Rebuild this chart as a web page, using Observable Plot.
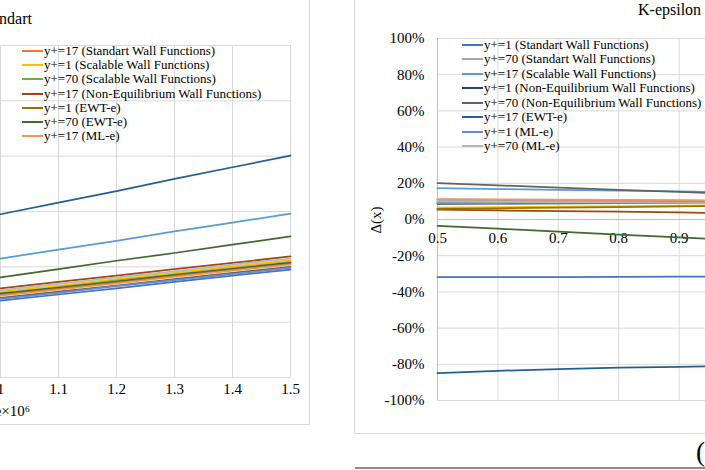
<!DOCTYPE html>
<html><head><meta charset="utf-8">
<script src="https://cdn.jsdelivr.net/npm/d3@7"></script>
<script src="https://cdn.jsdelivr.net/npm/@observablehq/plot@0.6"></script>
<style>
html,body{margin:0;padding:0;background:#fff;}
#root{position:relative;width:705px;height:470px;overflow:hidden;background:#fff;font-family:"Liberation Serif","Times New Roman",serif;color:#000;}
#root svg, #root svg text{font-family:"Liberation Serif","Times New Roman",serif !important;}
.abs{position:absolute;}
.leg{position:absolute;font-size:13px;line-height:14px;white-space:nowrap;color:#000;}
.sw{display:inline-block;width:21px;height:0;border-top:2px solid;vertical-align:middle;margin-right:1px;position:relative;top:-1px;}
.ln{position:absolute;background:#d9d9d9;}
</style></head><body><div id="root"></div>
<script>
// ---- data ----
const seriesNames = [
  "y+=1 (Standart Wall Functions)", "y+=17 (Standart Wall Functions)", "y+=70 (Standart Wall Functions)",
  "y+=1 (Scalable Wall Functions)", "y+=17 (Scalable Wall Functions)", "y+=70 (Scalable Wall Functions)",
  "y+=1 (Non-Equilibrium Wall Functions)", "y+=17 (Non-Equilibrium Wall Functions)", "y+=70 (Non-Equilibrium Wall Functions)",
  "y+=1 (EWT-e)", "y+=17 (EWT-e)", "y+=70 (EWT-e)",
  "y+=1 (ML-e)", "y+=17 (ML-e)", "y+=70 (ML-e)"
];
const seriesColors = [
  "#4472C4", "#ED7D31", "#A5A5A5", "#FFC000", "#5B9BD5", "#70AD47",
  "#264478", "#9E480E", "#636363", "#997300", "#255E91", "#43682B",
  "#698ED0", "#F1975A", "#B7B7B7"
];
// left chart (Re x 10^6 from 1.0 to 1.5)
const xLeft = [1.0, 1.1, 1.2, 1.3, 1.4, 1.5];
const leftValues = [
  [1.39, 1.50, 1.61, 1.73, 1.84, 1.95],
  [1.49, 1.60, 1.71, 1.83, 1.94, 2.05],
  [1.53, 1.64, 1.76, 1.87, 1.99, 2.10],
  [1.55, 1.66, 1.78, 1.89, 2.01, 2.12],
  [2.15, 2.31, 2.47, 2.64, 2.80, 2.96],
  [1.52, 1.63, 1.75, 1.86, 1.97, 2.08],
  [1.51, 1.62, 1.73, 1.85, 1.96, 2.07],
  [1.61, 1.73, 1.84, 1.96, 2.07, 2.19],
  [1.44, 1.55, 1.66, 1.78, 1.89, 2.00],
  [1.50, 1.61, 1.72, 1.84, 1.95, 2.06],
  [2.95, 3.16, 3.37, 3.59, 3.80, 4.01],
  [1.81, 1.96, 2.11, 2.25, 2.40, 2.55],
  [1.42, 1.53, 1.65, 1.76, 1.87, 1.98],
  [1.48, 1.59, 1.70, 1.82, 1.93, 2.04],
  [1.58, 1.69, 1.81, 1.92, 2.04, 2.15]
];
const xLeftTicks = [1.0, 1.1, 1.2, 1.3, 1.4, 1.5];
const yLeftTicks = [0, 1, 2, 3, 4, 5, 6];
const leftLegendIdx = [1, 3, 5, 7, 9, 11, 13];

// right chart (K-epsilon), x 0.5 .. 1.0, Δ(x)
const xRight = [0.5, 0.6, 0.7, 0.8, 0.9, 1.0];
const rightValues = [
  [-0.319, -0.318, -0.318, -0.317, -0.316, -0.316],
  [0.110, 0.108, 0.107, 0.105, 0.104, 0.102],
  [0.105, 0.103, 0.101, 0.099, 0.097, 0.095],
  [0.065, 0.068, 0.071, 0.074, 0.077, 0.080],
  [0.173, 0.168, 0.164, 0.159, 0.155, 0.150],
  [0.096, 0.095, 0.095, 0.094, 0.094, 0.093],
  [0.087, 0.088, 0.089, 0.090, 0.091, 0.092],
  [0.054, 0.050, 0.046, 0.043, 0.039, 0.035],
  [0.201, 0.189, 0.176, 0.164, 0.152, 0.140],
  [0.059, 0.062, 0.065, 0.069, 0.072, 0.075],
  [-0.849, -0.836, -0.827, -0.819, -0.814, -0.809],
  [-0.035, -0.051, -0.067, -0.083, -0.099, -0.115],
  [0.090, 0.091, 0.092, 0.093, 0.094, 0.095],
  [0.113, 0.111, 0.110, 0.108, 0.107, 0.105],
  [0.100, 0.098, 0.096, 0.094, 0.092, 0.090]
];
const xRightTicks = [0.5, 0.6, 0.7, 0.8, 0.9, 1.0];
const yRightTicks = [-1, -0.8, -0.6, -0.4, -0.2, 0, 0.2, 0.4, 0.6, 0.8, 1];
const rightLegendIdx = [0, 2, 4, 6, 8, 10, 12, 14];

// ---- build ----
const root = document.getElementById("root");
const FONT = "'Liberation Serif','Times New Roman',serif";
const leftRows = [];
leftValues.forEach((vals, i) => vals.forEach((v, j) => leftRows.push({s: seriesNames[i], x: xLeft[j], v})));
const rightRows = [];
rightValues.forEach((vals, i) => vals.forEach((v, j) => rightRows.push({s: seriesNames[i], x: xRight[j], v})));

const baseStyle = {fontFamily: FONT, fontSize: "15px", color: "#000", background: "transparent", overflow: "visible", maxWidth: "none"};
const fmtX = d => String(+d.toFixed(1));
const pct = d => `${Math.round(d * 100)}%`;

const left = Plot.plot({
  width: 360, height: 417, marginLeft: 60, marginRight: 10, marginTop: 45, marginBottom: 40,
  style: baseStyle,
  x: {domain: [1.0, 1.5], axis: null},
  y: {domain: [0, 6], axis: null},
  color: {domain: seriesNames, range: seriesColors},
  marks: [
    Plot.gridX(xLeftTicks, {stroke: "#d9d9d9", strokeOpacity: 1}),
    Plot.gridY(yLeftTicks, {stroke: "#d9d9d9", strokeOpacity: 1}),
    Plot.text(xLeftTicks, {x: d => d, frameAnchor: "bottom", dy: 16, text: fmtX, fontSize: 15, fontFamily: FONT, fill: "#000"}),
    Plot.line(leftRows, {x: "x", y: "v", z: "s", stroke: "s", strokeWidth: 1.75})
  ]
});
left.style.position = "absolute"; left.style.left = "-60px"; left.style.top = "0px";
root.appendChild(left);

const right = Plot.plot({
  width: 392, height: 420, marginLeft: 80, marginRight: 10, marginTop: 38, marginBottom: 20,
  style: baseStyle,
  x: {domain: [0.5, 1.0], axis: null},
  y: {domain: [-1, 1], axis: null},
  color: {domain: seriesNames, range: seriesColors},
  marks: [
    Plot.gridX(xRightTicks, {stroke: "#d9d9d9", strokeOpacity: 1}),
    Plot.gridY(yRightTicks, {stroke: "#d9d9d9", strokeOpacity: 1}),
    Plot.ruleY([0], {stroke: "#bfbfbf"}),
    Plot.ruleX([0.5], {stroke: "#bfbfbf"}),
    Plot.text(yRightTicks, {y: d => d, frameAnchor: "left", dx: -13, textAnchor: "end", text: pct, fontSize: 15, fontFamily: FONT, fill: "#000"}),
    Plot.text(xRightTicks, {x: d => d, y: () => 0, dy: 19, text: d => d.toFixed(1), fontSize: 15, fontFamily: FONT, fill: "#000"}),
    Plot.line(rightRows, {x: "x", y: "v", z: "s", stroke: "s", strokeWidth: 1.75})
  ]
});
right.style.position = "absolute"; right.style.left = "357px"; right.style.top = "0px";
root.appendChild(right);

function addDiv(cls, css, text) {
  const d = document.createElement("div");
  d.className = cls; d.style.cssText = css;
  if (text != null) d.textContent = text;
  root.appendChild(d); return d;
}
// frames
addDiv("ln", "left:309px;top:0;width:1px;height:424px;");
addDiv("ln", "left:0;top:424px;width:310px;height:1px;");
addDiv("ln", "left:354px;top:0;width:1px;height:433px;");
addDiv("ln", "left:354px;top:433px;width:360px;height:1px;");
addDiv("abs", "left:355px;top:467px;width:360px;height:2px;background:#8c8c8c;");

// titles & labels
addDiv("abs", "right:673px;top:10.6px;font-size:16px;line-height:1;white-space:nowrap;text-align:right;", "Standart");
addDiv("abs", "left:638px;top:2px;font-size:16px;line-height:1;white-space:nowrap;", "K-epsilon");
addDiv("abs", "right:675px;top:404.4px;font-size:15px;line-height:1;white-space:nowrap;text-align:right;", "Re×10⁶");
addDiv("abs", "left:376px;top:220px;font-size:15px;line-height:1;white-space:nowrap;transform:translate(-50%,-50%) rotate(-90deg);", "Δ(x)");
addDiv("abs", "left:696px;top:439.4px;font-size:27px;line-height:1;white-space:nowrap;", "(b)");

// legends
function legend(idxs, x, y0, step) {
  idxs.forEach((i, k) => {
    const row = addDiv("leg", `left:${x}px;top:${(y0 + k * step - 8.4).toFixed(1)}px;`);
    const sw = document.createElement("span");
    sw.className = "sw"; sw.style.borderTopColor = seriesColors[i];
    row.appendChild(sw);
    row.appendChild(document.createTextNode(seriesNames[i]));
  });
}
legend(leftLegendIdx, 22, 52.3, 14.2);
legend(rightLegendIdx, 462, 46, 14.5);
</script></body></html>
